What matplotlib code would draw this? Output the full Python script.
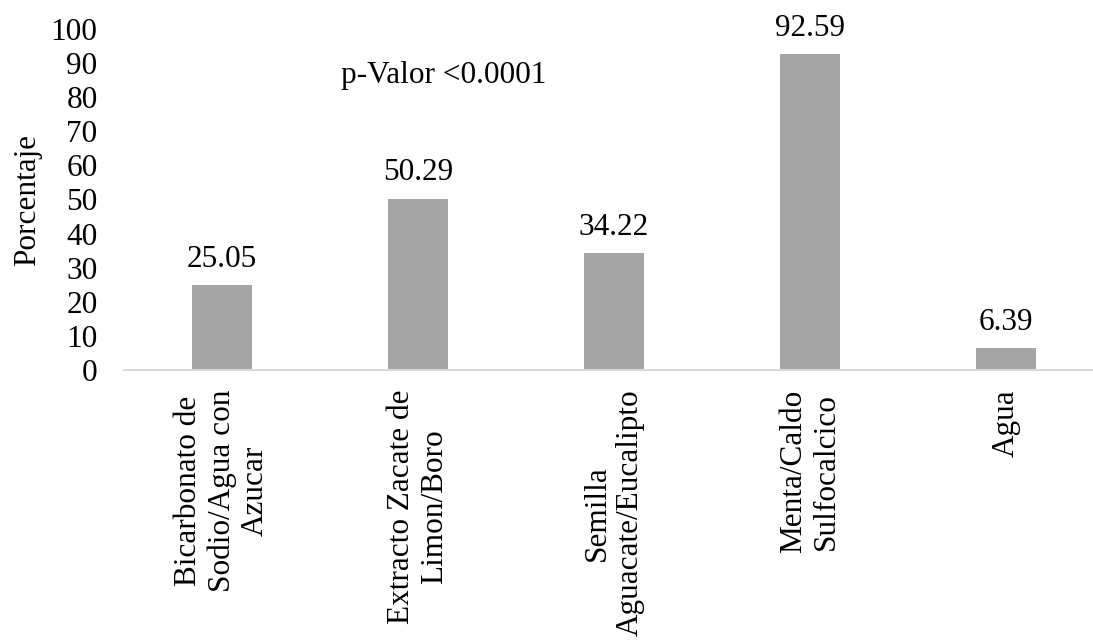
import matplotlib
matplotlib.use('Agg')
import matplotlib.pyplot as plt

plt.rcParams['font.family'] = ['Liberation Serif', 'DejaVu Serif']

categorias = [
    'Bicarbonato de\nSodio/Agua con\nAzucar',
    'Extracto Zacate de\nLimon/Boro',
    'Semilla\nAguacate/Eucalipto',
    'Menta/Caldo\nSulfocalcico',
    'Agua',
]
porcentajes = [25.05, 50.29, 34.22, 92.59, 6.39]
etiquetas = ['25.05', '50.29', '34.22', '92.59', '6.39']
y_ticks = list(range(0, 101, 10))
nota = 'p-Valor <0.0001'

W, H = 1093, 640
fig = plt.figure(figsize=(W / 100, H / 100), dpi=100)
# ejes: x de 124 a 1104 px, y de 29 a 370 px
ax = fig.add_axes([124 / W, (H - 370) / H, 980 / W, 341 / H])

x = list(range(len(categorias)))
ax.bar(x, porcentajes, width=0.31, color='#A5A5A5', zorder=2)

for xi, v, txt in zip(x, porcentajes, etiquetas):
    ax.annotate(txt, (xi, v), xytext=(0, 13), textcoords='offset points',
                ha='center', va='baseline', fontsize=22.5, color='black')

ax.text(1.13, 84.3, nota, ha='center', va='baseline', fontsize=22.5)

ax.set_xlim(-0.5, len(categorias) - 0.5)
ax.set_ylim(0, 100)
ax.set_yticks(y_ticks)
ax.set_xticks(x)
ax.set_xticklabels(categorias, rotation=90, ha='center', va='top',
                   multialignment='center', linespacing=1.2)
ax.tick_params(axis='x', length=0, pad=14, labelsize=22.5)
ax.tick_params(axis='y', length=0, pad=19, labelsize=22.5)

for s in ['top', 'right', 'left']:
    ax.spines[s].set_visible(False)
ax.spines['bottom'].set_color('#D9D9D9')
ax.spines['bottom'].set_linewidth(1.5)

ax.set_ylabel('Porcentaje', fontsize=22.5)
ax.yaxis.set_label_coords(-82 / 980, 0.5)

fig.savefig('out.png', dpi=100)
